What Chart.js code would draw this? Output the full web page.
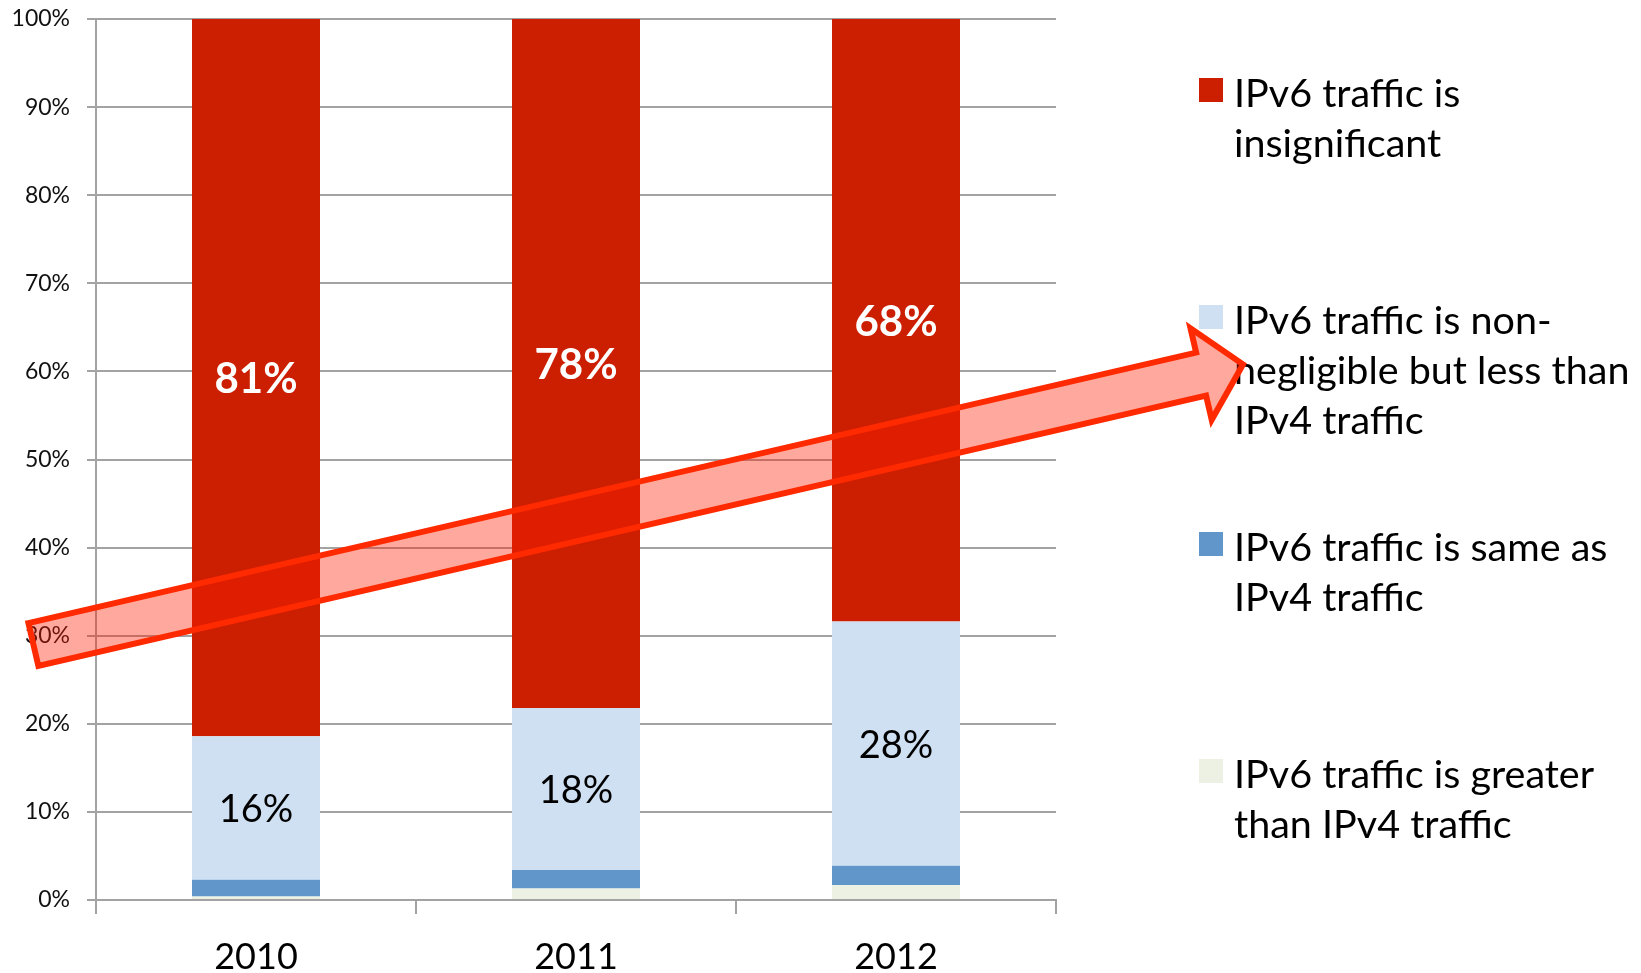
<!DOCTYPE html>
<html>
<head>
<meta charset="utf-8">
<script src="https://cdn.jsdelivr.net/npm/chart.js@4.4.1/dist/chart.umd.min.js"></script>
<style>
  html, body { margin: 0; padding: 0; background: #ffffff; }
  canvas { display: block; }
</style>
</head>
<body>
<canvas id="c" width="1641" height="973"></canvas>
<script>
// ---- data ----
const years = ['2010', '2011', '2012'];
const greaterThanV4 = [0.4, 1.3, 1.7];
const sameAsV4 = [1.9, 2.1, 2.2];
const nonNegligible = [16.3, 18.4, 27.7];
const insignificant = [81.4, 78.2, 68.4];
const yTickValues = [0, 10, 20, 30, 40, 50, 60, 70, 80, 90, 100];

const seriesNames = [
  'IPv6 traffic is greater than IPv4 traffic',
  'IPv6 traffic is same as IPv4 traffic',
  'IPv6 traffic is non-negligible but less than IPv4 traffic',
  'IPv6 traffic is insignificant'
];
const legendLines = [
  ['IPv6 traffic is', 'insignificant'],
  ['IPv6 traffic is non-', 'negligible but less than', 'IPv4 traffic'],
  ['IPv6 traffic is same as', 'IPv4 traffic'],
  ['IPv6 traffic is greater', 'than IPv4 traffic']
];
// arrow annotation (y in axis values)
const arrowFromValue = 29.0;
const arrowToValue = 60.8;

// ---- styles ----
const colors = ['#EDF1E3', '#6096C9', '#CFE0F2', '#CC1E00'];
const legendColors = ['#CC1E00', '#CFE0F2', '#6096C9', '#EDF1E3'];
const FONT = 'Lato, "Open Sans", sans-serif';
const GRID = '#A3A3A3';

const barLabelsPlugin = {
  id: 'barLabels',
  afterDatasetsDraw(chart) {
    const ctx = chart.ctx;
    ctx.save();
    ctx.textAlign = 'center';
    ctx.textBaseline = 'middle';
    [2, 3].forEach(di => {
      const meta = chart.getDatasetMeta(di);
      const ds = chart.data.datasets[di];
      meta.data.forEach((el, i) => {
        const v = ds.data[i];
        const y = (el.y + el.base) / 2;
        if (di === 3) {
          ctx.font = 'bold 42px ' + FONT;
          ctx.fillStyle = '#ffffff';
        } else {
          ctx.font = '38px ' + FONT;
          ctx.fillStyle = '#000000';
        }
        ctx.fillText(Math.round(v) + '%', el.x, y + 2);
      });
    });
    ctx.restore();
  }
};

const legendArrowPlugin = {
  id: 'legendArrow',
  afterDraw(chart) {
    const ctx = chart.ctx;
    const ca = chart.chartArea;
    // legend
    ctx.save();
    const lx = ca.right + 143;
    ctx.font = '39.5px ' + FONT;
    ctx.textAlign = 'left';
    ctx.textBaseline = 'alphabetic';
    legendLines.forEach((lines, i) => {
      const top = ca.top + 59 + 227 * i;
      ctx.fillStyle = legendColors[i];
      ctx.fillRect(lx, top, 24, 24);
      ctx.fillStyle = '#000';
      lines.forEach((t, j) => {
        ctx.fillText(t, lx + 35, top + 29 + 50 * j);
      });
    });
    ctx.restore();

    // arrow
    const ys = chart.scales.y;
    const x0 = ca.left - 62.6, y0 = ys.getPixelForValue(arrowFromValue);
    const x1 = ca.right + 187, y1 = ys.getPixelForValue(arrowToValue);
    const dx = x1 - x0, dy = y1 - y0;
    const L = Math.hypot(dx, dy);
    const ux = dx / L, uy = dy / L;
    const nx = -uy, ny = ux;
    const sh = 22, hh = 47, hl = 43;
    const P = (a, b) => [x0 + ux * a + nx * b, y0 + uy * a + ny * b];
    const pts = [P(0, -sh), P(L - hl, -sh), P(L - hl, -hh), P(L, 0), P(L - hl, hh), P(L - hl, sh), P(0, sh)];
    ctx.save();
    ctx.beginPath();
    pts.forEach((p, i) => i ? ctx.lineTo(p[0], p[1]) : ctx.moveTo(p[0], p[1]));
    ctx.closePath();
    ctx.fillStyle = 'rgba(255,30,0,0.38)';
    ctx.fill();
    ctx.lineWidth = 6;
    ctx.lineJoin = 'miter';
    ctx.miterLimit = 10;
    ctx.strokeStyle = '#FF2A00';
    ctx.stroke();
    ctx.restore();
  }
};

const chart = new Chart(document.getElementById('c').getContext('2d'), {
  type: 'bar',
  data: {
    labels: years,
    datasets: [
      { label: seriesNames[0], data: greaterThanV4, backgroundColor: colors[0] },
      { label: seriesNames[1], data: sameAsV4, backgroundColor: colors[1] },
      { label: seriesNames[2], data: nonNegligible, backgroundColor: colors[2] },
      { label: seriesNames[3], data: insignificant, backgroundColor: colors[3] }
    ]
  },
  options: {
    responsive: false,
    animation: false,
    devicePixelRatio: 1,
    layout: { padding: { top: 19, right: 585, bottom: 0, left: 0 } },
    plugins: { legend: { display: false }, tooltip: { enabled: false }, title: { display: false } },
    datasets: { bar: { barPercentage: 0.4, categoryPercentage: 1.0, borderWidth: 0 } },
    scales: {
      x: {
        stacked: true,
        grid: { display: true, drawOnChartArea: false, drawTicks: true, tickLength: 14, color: GRID, lineWidth: 2, offset: true },
        border: { color: GRID, width: 2 },
        ticks: { font: { family: FONT, size: 36 }, color: '#000', padding: 22 },
        afterFit(a) { a.height = 73; a.paddingLeft = 0; a.paddingRight = 0; }
      },
      y: {
        stacked: true,
        min: 0,
        max: 100,
        afterBuildTicks(a) { a.ticks = yTickValues.map(v => ({ value: v })); },
        ticks: { callback: v => v + '%', font: { family: FONT, size: 23 }, color: '#111', padding: 17 },
        grid: { color: GRID, lineWidth: 2, tickLength: 9 },
        border: { color: GRID, width: 2 },
        afterFit(a) { a.width = 96; a.paddingTop = 0; a.paddingBottom = 0; }
      }
    }
  },
  plugins: [barLabelsPlugin, legendArrowPlugin]
});
</script>
</body>
</html>
